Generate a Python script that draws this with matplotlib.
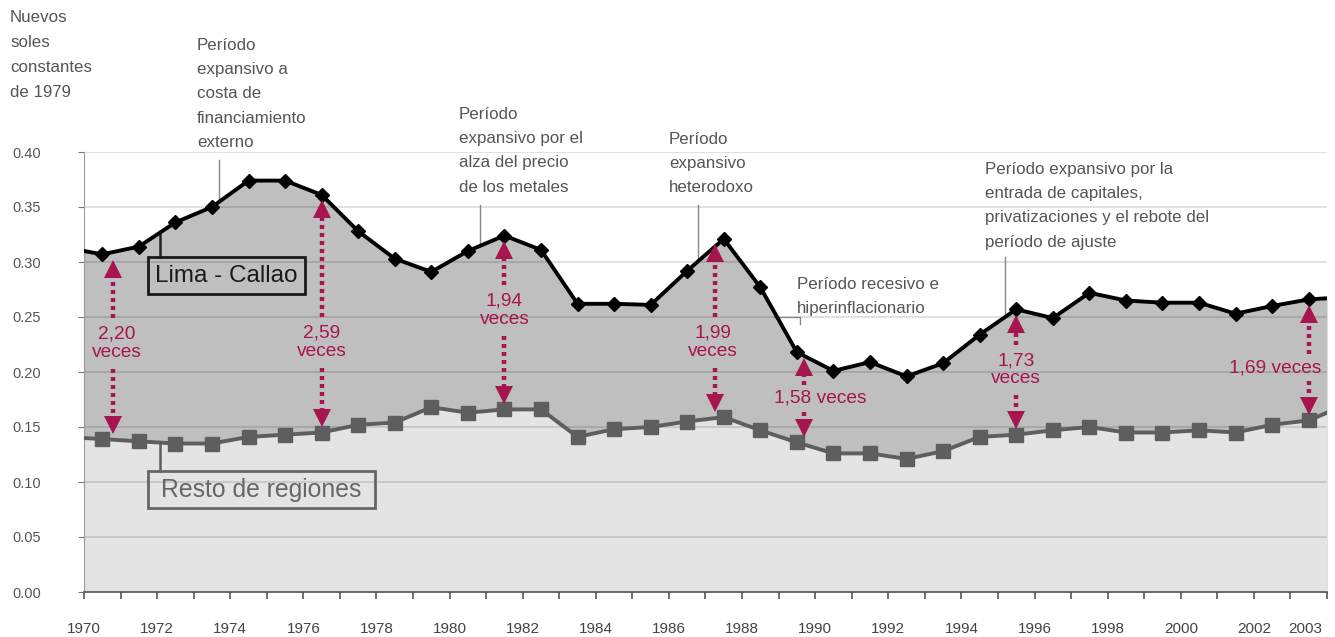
import numpy as np
import matplotlib
matplotlib.use("Agg")
import matplotlib.pyplot as plt
from matplotlib.patches import Rectangle

# ---------------- data ----------------
years = list(range(1970, 2004))
lima_callao = [0.307, 0.314, 0.336, 0.350, 0.374, 0.374, 0.361, 0.328, 0.303, 0.291,
               0.310, 0.324, 0.311, 0.262, 0.262, 0.261, 0.292, 0.321, 0.277, 0.218,
               0.201, 0.209, 0.196, 0.208, 0.234, 0.257, 0.249, 0.272, 0.265, 0.263,
               0.263, 0.253, 0.260, 0.266]
resto_regiones = [0.139, 0.137, 0.135, 0.135, 0.141, 0.143, 0.145, 0.152, 0.154, 0.168,
                  0.163, 0.166, 0.166, 0.141, 0.148, 0.150, 0.155, 0.159, 0.147, 0.136,
                  0.126, 0.126, 0.121, 0.128, 0.141, 0.143, 0.147, 0.150, 0.145, 0.145,
                  0.147, 0.145, 0.152, 0.156]
lima_edges = [0.310, 0.267]    # area edge values at the start / end of the axis
resto_edges = [0.140, 0.163]

yticks = [0.00, 0.05, 0.10, 0.15, 0.20, 0.25, 0.30, 0.35, 0.40]
xtick_years = [1970, 1972, 1974, 1976, 1978, 1980, 1982, 1984, 1986, 1988, 1990,
               1992, 1994, 1996, 1998, 2000, 2002]
last_year_label = "2003"

ratio_years = [1970, 1976, 1981, 1987, 1989, 1995, 2003]
ratio_labels = ["2,20\nveces", "2,59\nveces", "1,94\nveces", "1,99\nveces",
                "1,58 veces", "1,73\nveces", "1,69 veces"]

period_texts = [
    "Período\nexpansivo a\ncosta de\nfinanciamiento\nexterno",
    "Período\nexpansivo por el\nalza del precio\nde los metales",
    "Período\nexpansivo\nheterodoxo",
    "Período recesivo e\nhiperinflacionario",
    "Período expansivo por la\nentrada de capitales,\nprivatizaciones y el rebote del\nperíodo de ajuste",
]

# ---------------- fonts ----------------
FAM = ["Liberation Sans", "DejaVu Sans"]
plt.rcParams["font.family"] = FAM

W, H = 1335, 637
fig = plt.figure(figsize=(W / 100, H / 100), dpi=100)
L, R, B, T = 84, 1327, 592, 152
ax = fig.add_axes([L / W, 1 - B / H, (R - L) / W, (B - T) / H])

n = len(years)
xpos = np.arange(n) + 0.5
ax.set_xlim(0, n)
ax.set_ylim(0, 0.40)

# areas
xa = np.concatenate([[0], xpos, [n]])
la = np.concatenate([[lima_edges[0]], lima_callao, [lima_edges[1]]])
ra = np.concatenate([[resto_edges[0]], resto_regiones, [resto_edges[1]]])
ax.fill_between(xa, 0, la, color="#bfbfbf", lw=0, zorder=1)
ax.fill_between(xa, 0, ra, color="#e4e4e4", lw=0, zorder=1.1)

# gridlines
ax.hlines(yticks[1:], 0, n, color="black", alpha=0.13, lw=1.3, zorder=1.5)

# lines
ax.plot(xa, la, color="black", lw=2.8, zorder=4)
ax.plot(xpos, lima_callao, ls="none", marker="D", ms=7, color="black", zorder=5)
ax.plot(xa, ra, color="#5e5e5e", lw=2.8, zorder=4)
ax.plot(xpos, resto_regiones, ls="none", marker="s", ms=10, color="#5e5e5e", zorder=5)

# axes styling
for s in ["top", "right"]:
    ax.spines[s].set_visible(False)
ax.spines["left"].set_color("#9a9a9a")
ax.spines["bottom"].set_color("#555555")
ax.spines["bottom"].set_linewidth(1.2)
ax.set_yticks(yticks)
ax.set_yticklabels([f"{v:.2f}" for v in yticks])
ax.tick_params(axis="y", length=4, color="#777777", labelcolor="#555555",
               labelsize=10.5, pad=27)
ax.set_xticks(np.arange(n + 1))
xlabels = [""] * (n + 1)
for y in xtick_years:
    xlabels[y - years[0]] = str(y)
ax.set_xticklabels(xlabels)
ax.tick_params(axis="x", length=5, color="#555555", width=1.2, labelsize=11,
               labelcolor="#444444", pad=16.5)
ax.text(n - 0.6, 0, last_year_label, ha="center", va="top", fontsize=11,
        color="#444444", clip_on=False,
        transform=ax.get_xaxis_transform() + matplotlib.transforms.ScaledTranslation(
            0, -(5 + 16.5) / 72, fig.dpi_scale_trans))

# y-axis title
fig.text(10 / W, 1 - 10 / H, "Nuevos\nsoles\nconstantes\nde 1979", ha="left", va="top",
         fontsize=12.2, color="#555555", linespacing=1.84)

def px2data(px, py):
    return (px - L) / (R - L) * n, (B - py) / (B - T) * 0.40

# series labels with boxes
lx, _ = px2data(160, 0)
ax.plot([lx, lx], [np.interp(lx, xa, la), px2data(0, 257)[1]], color="#222222", lw=1.8, zorder=3)
ax.plot([lx, lx], [np.interp(lx, xa, ra), px2data(0, 471)[1]], color="#5e5e5e", lw=1.8, zorder=3)

def label_box(x0, y0, x1, y1, text, color, size):
    (ax0, ay1), (ax1, ay0) = px2data(x0, y0), px2data(x1, y1)
    ax.add_patch(Rectangle((ax0, ay0), ax1 - ax0, ay1 - ay0, fill=False, ec=color,
                           lw=2, zorder=6))
    ax.text((ax0 + ax1) / 2, (ay0 + ay1) / 2, text, ha="center", va="center",
            fontsize=size, color=color, zorder=6)

label_box(148, 257, 305, 294, "Lima - Callao", "#1a1a1a", 17.5)
label_box(148, 471, 375, 508, "Resto de regiones", "#666666", 17.8)

# period annotations
period_pos = [(197, 38), (459, 107), (669, 132), (797, 277), (985, 162)]
leader_px = [(219, 160), (480, 205), (698, 205), None, (1005, 257)]
for txt, (px, py), ld in zip(period_texts, period_pos, leader_px):
    tx, ty = px2data(px, py)
    ax.text(tx, ty, txt, ha="left", va="top", fontsize=12.2, color="#555555",
            linespacing=1.77, clip_on=False, zorder=6)
    if ld is not None:
        x0, y0 = px2data(*ld)
        ax.plot([x0, x0], [y0, np.interp(x0, xa, la)], color="#888888", lw=1, zorder=3,
                clip_on=False)
# small elbow leader for recessive period
x1, y1 = px2data(800, 317)
x2, y2 = px2data(800, 324)
ax.plot([x1 - 0.7, x1, x2], [y1, y1, y2], color="#888888", lw=1, zorder=3)

# ratio arrows
CR = "#a6154d"
arrow_dx = [0.3, 0.0, 0.0, -0.25, 0.2, 0.0, 0.0]
text_dx = [0.4, 0.0, 0.0, -0.3, 0.63, 0.0, -0.92]
text_y = [0.226, 0.227, 0.256, 0.227, 0.176, 0.202, 0.204]
gap = 0.0065
head = 0.0135
for yr, lab, adx, tdx, ty in zip(ratio_years, ratio_labels, arrow_dx, text_dx, text_y):
    i = yr - years[0]
    x = xpos[i] + adx
    top = lima_callao[i] - gap
    bot = resto_regiones[i] + gap
    half = 0.021 if "\n" in lab else 0.010
    ax.plot([x, x], [ty + half + 0.002, top - head], color=CR, lw=3.2,
            ls=(0, (0.9, 0.9)), zorder=6, solid_capstyle="butt")
    ax.plot([x, x], [ty - half - 0.002, bot + head], color=CR, lw=3.2,
            ls=(0, (0.9, 0.9)), zorder=6, solid_capstyle="butt")
    ax.plot([x], [top - head / 2], marker="^", ms=13, color=CR, mew=0, zorder=6)
    ax.plot([x], [bot + head / 2], marker="v", ms=13, color=CR, mew=0, zorder=6)
    ax.text(xpos[i] + tdx, ty, lab, ha="center", va="center", fontsize=13.8, color=CR,
            linespacing=1.1, zorder=7)

fig.savefig("out.png", dpi=100)
